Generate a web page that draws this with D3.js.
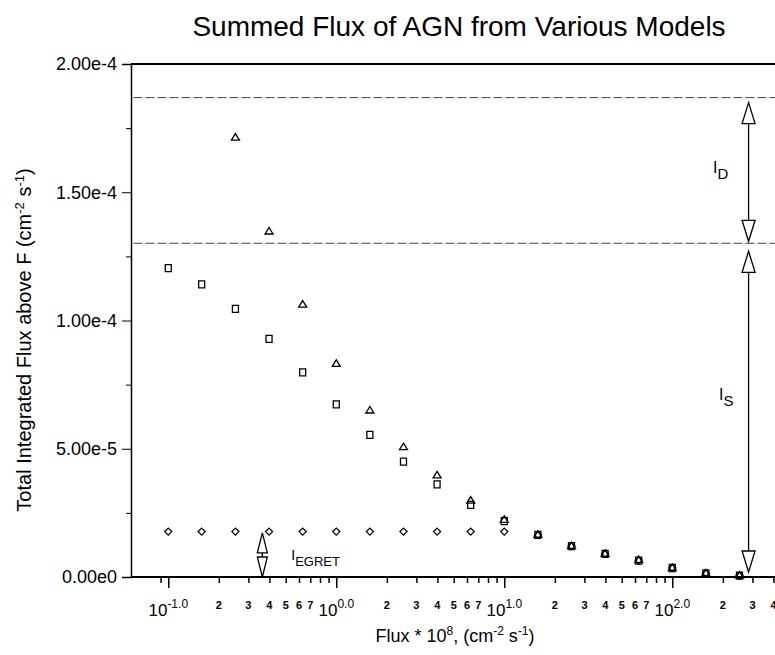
<!DOCTYPE html>
<html>
<head>
<meta charset="utf-8">
<script src="https://cdn.jsdelivr.net/npm/d3@7"></script>
<style>
body { margin: 0; background: #fff; }
svg { font-family: "Liberation Sans", Arial, sans-serif; display: block; }
</style>
</head>
<body>
<svg id="chart"></svg>
<script>
// data (flux steps of 0.2 dex)
let fluxes = [0.1, 0.158, 0.251, 0.398, 0.631, 1, 1.585, 2.512, 3.981, 6.31, 10, 15.85, 25.12, 39.81, 63.1, 100, 158.5, 251.2]
let triangles = [null, null, 1.715e-4, 1.349e-4, 1.064e-4, 8.33e-5, 6.51e-5, 5.08e-5, 3.98e-5, 3.0e-5, 2.25e-5, 1.66e-5, 1.22e-5, 9.2e-6, 6.8e-6, 3.7e-6, 1.6e-6, 7e-7]
let squares = [1.204e-4, 1.141e-4, 1.045e-4, 9.28e-5, 7.98e-5, 6.73e-5, 5.54e-5, 4.5e-5, 3.61e-5, 2.81e-5, 2.18e-5, 1.64e-5, 1.2e-5, 9.0e-6, 6.4e-6, 3.5e-6, 1.4e-6, 5e-7]
let diamonds = [1.77e-5, 1.77e-5, 1.77e-5, 1.77e-5, 1.77e-5, 1.77e-5, 1.77e-5, 1.77e-5, 1.77e-5, 1.77e-5, 1.77e-5, 1.64e-5, 1.21e-5, 9.1e-6, 6.5e-6, 3.6e-6, 1.5e-6, 6e-7]

let diffuseLevel = 1.869e-4
let sourceLevel = 1.301e-4
let egretLevel = 1.72e-5

let yMajor = [0, 5e-5, 1e-4, 1.5e-4, 2e-4]
let yMajorLabels = ["0.00e0", "5.00e-5", "1.00e-4", "1.50e-4", "2.00e-4"]
let yMinor = [2.5e-5, 7.5e-5, 1.25e-4, 1.75e-4]

let xMajor = [0.1, 1, 10, 100]
let xMajorExp = ["-1.0", "0.0", "1.0", "2.0"]
let xMinor = [0.09, 0.2, 0.3, 0.4, 0.5, 0.6, 0.7, 0.8, 0.9, 2, 3, 4, 5, 6, 7, 8, 9, 20, 30, 40, 50, 60, 70, 80, 90, 200, 300, 400]
let xMinorLabeled = [0.2, 0.3, 0.4, 0.5, 0.6, 0.7, 2, 3, 4, 5, 6, 7, 20, 30, 40, 50, 60, 70, 200, 300, 400]

let width = 775
let height = 655

let svg = d3.select("#chart")
    .attr("width", width)
    .attr("height", height)

let xScale = d3.scaleLog()
    .domain([0.06, 420])
    .range([131, 777])

let yScale = d3.scaleLinear()
    .domain([0, 2e-4])
    .range([577, 64])

// title
svg.append("text")
    .attr("x", 459)
    .attr("y", 36)
    .attr("text-anchor", "middle")
    .attr("font-size", 28)
    .text("Summed Flux of AGN from Various Models")

// dashed reference levels
svg.selectAll(".level")
    .data([diffuseLevel, sourceLevel])
    .enter()
    .append("line")
    .attr("class", "level")
    .attr("x1", xScale(0.062))
    .attr("x2", width)
    .attr("y1", d => yScale(d))
    .attr("y2", d => yScale(d))
    .attr("stroke", "#444")
    .attr("stroke-width", 1)
    .attr("stroke-dasharray", "9,3")

// y axis
let yAxisMinor = d3.axisLeft(yScale).tickValues(yMinor).tickSize(5).tickFormat("")
svg.append("g")
    .attr("transform", "translate(131,0)")
    .call(yAxisMinor)
    .call(g => g.select(".domain").remove())

let yAxis = d3.axisLeft(yScale)
    .tickValues(yMajor)
    .tickSize(9)
    .tickPadding(5)
    .tickFormat((d, i) => yMajorLabels[i])
svg.append("g")
    .attr("id", "y-axis")
    .attr("transform", "translate(131,0)")
    .call(yAxis)
    .call(g => g.select(".domain").attr("stroke-width", 1.5))
    .call(g => g.selectAll("text").attr("font-size", 18).attr("fill", "#000").attr("font-family", "Liberation Sans, Arial, sans-serif"))

// top border
svg.append("line")
    .attr("x1", 131).attr("x2", width)
    .attr("y1", yScale(2e-4)).attr("y2", yScale(2e-4))
    .attr("stroke", "#000").attr("stroke-width", 2)

// x axis
let xAxisMinor = d3.axisBottom(xScale).tickValues(xMinor).tickSize(6).tickFormat("")
svg.append("g")
    .attr("transform", "translate(0,577)")
    .call(xAxisMinor)
    .call(g => g.select(".domain").remove())
    .call(g => g.selectAll("line").attr("stroke-width", 1.5))

let xAxis = d3.axisBottom(xScale).tickValues(xMajor).tickSize(11).tickFormat("")
svg.append("g")
    .attr("id", "x-axis")
    .attr("transform", "translate(0,577)")
    .call(xAxis)
    .call(g => g.select(".domain").remove())
    .call(g => g.selectAll("line").attr("stroke-width", 1.5))

svg.append("line")
    .attr("x1", 131).attr("x2", width)
    .attr("y1", 577).attr("y2", 577)
    .attr("stroke", "#000").attr("stroke-width", 2)

svg.selectAll(".minor-label")
    .data(xMinorLabeled)
    .enter()
    .append("text")
    .attr("class", "minor-label")
    .attr("x", d => xScale(d))
    .attr("y", 609)
    .attr("text-anchor", "middle")
    .attr("font-size", 11)
    .attr("font-weight", "bold")
    .text(d => String(d).replace("0.", "").replace(/0+$/, ""))

let majorLabels = svg.selectAll(".major-label")
    .data(xMajor)
    .enter()
    .append("text")
    .attr("class", "major-label")
    .attr("x", d => xScale(d))
    .attr("y", 616)
    .attr("text-anchor", "middle")
    .attr("font-size", 17)
majorLabels.append("tspan").text("10")
majorLabels.append("tspan")
    .attr("dy", -8)
    .attr("font-size", 12)
    .text((d, i) => xMajorExp[i])

// axis titles
let xTitle = svg.append("text")
    .attr("x", 455)
    .attr("y", 642)
    .attr("text-anchor", "middle")
    .attr("font-size", 18)
xTitle.append("tspan").text("Flux * 10")
xTitle.append("tspan").attr("dy", -7).attr("font-size", 12).text("8")
xTitle.append("tspan").attr("dy", 7).text(", (cm")
xTitle.append("tspan").attr("dy", -7).attr("font-size", 12).text("-2")
xTitle.append("tspan").attr("dy", 7).text(" s")
xTitle.append("tspan").attr("dy", -7).attr("font-size", 12).text("-1")
xTitle.append("tspan").attr("dy", 7).text(")")

let yTitle = svg.append("text")
    .attr("transform", "translate(31,340) rotate(-90)")
    .attr("text-anchor", "middle")
    .attr("font-size", 20)
yTitle.append("tspan").text("Total Integrated Flux above F (cm")
yTitle.append("tspan").attr("dy", -7).attr("font-size", 13).text("-2")
yTitle.append("tspan").attr("dy", 7).text(" s")
yTitle.append("tspan").attr("dy", -7).attr("font-size", 13).text("-1")
yTitle.append("tspan").attr("dy", 7).text(")")

// markers
let markerPaths = {
    triangle: "M0,-3.5L4,3L-4,3Z",
    square: "M-3,-3.5L3,-3.5L3,3.5L-3,3.5Z",
    diamond: "M0,-3.5L3.5,0L0,3.5L-3.5,0Z"
}

let series = [
    { name: "diamond", values: diamonds },
    { name: "square", values: squares },
    { name: "triangle", values: triangles }
]

series.forEach(s => {
    let pts = fluxes.map((f, i) => ({ f: f, v: s.values[i] })).filter(p => p.v != null)
    svg.selectAll(".pt-" + s.name)
        .data(pts)
        .enter()
        .append("path")
        .attr("class", "pt-" + s.name)
        .attr("d", markerPaths[s.name])
        .attr("transform", d => "translate(" + xScale(d.f) + "," + yScale(d.v) + ")")
        .attr("fill", "none")
        .attr("stroke", "#000")
        .attr("stroke-width", 1.3)
})

// double arrows
let drawArrow = (xv, topY, botY, headW, headH, midGap) => {
    let x = xScale(xv)
    let g = svg.append("g").attr("stroke", "#000").attr("fill", "#fff").attr("stroke-width", 1.3)
    if (midGap != null) {
        let mid = (topY + botY) / 2
        g.append("line").attr("x1", x).attr("x2", x).attr("y1", mid - midGap).attr("y2", mid + midGap)
    } else {
        g.append("line").attr("x1", x).attr("x2", x).attr("y1", topY + headH).attr("y2", botY - headH)
    }
    g.append("path").attr("d", "M" + x + "," + topY + "L" + (x + headW) + "," + (topY + headH) + "L" + (x - headW) + "," + (topY + headH) + "Z")
    g.append("path").attr("d", "M" + x + "," + botY + "L" + (x + headW) + "," + (botY - headH) + "L" + (x - headW) + "," + (botY - headH) + "Z")
}

drawArrow(284.5, yScale(diffuseLevel) + 5, yScale(sourceLevel) - 2, 6.5, 21)
drawArrow(284.5, yScale(sourceLevel) + 8, yScale(0) - 5, 6.5, 21)
drawArrow(0.363, yScale(egretLevel), yScale(0), 5, 20, 2)

let subLabel = (xv, yv, main, sub, size) => {
    let t = svg.append("text")
        .attr("x", xScale(xv))
        .attr("y", yScale(yv))
        .attr("font-size", size)
    t.append("tspan").text(main)
    t.append("tspan").attr("dy", 6).attr("font-size", size - 1).text(sub)
}

subLabel(175, 1.575e-4, "I", "D", 16)
subLabel(190, 0.69e-4, "I", "S", 16)
subLabel(0.54, 0.66e-5, "I", "EGRET", 14)
</script>
</body>
</html>
